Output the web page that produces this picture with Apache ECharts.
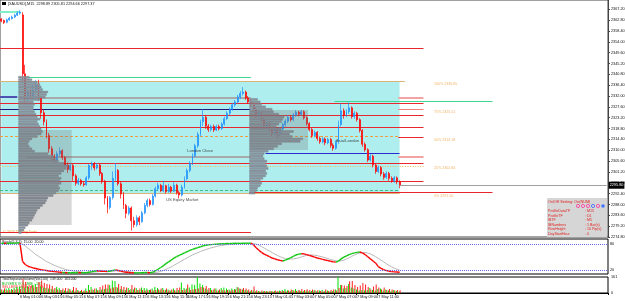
<!DOCTYPE html>
<html><head><meta charset="utf-8">
<script src="https://cdn.jsdelivr.net/npm/echarts@6.0.0/dist/echarts.min.js"></script>
<style>html,body{margin:0;padding:0;background:#fff}#c{width:625px;height:301px}</style>
</head><body><div id="c"></div>
<script>
// ---------- DATA ----------
const titleText = "[XAUUSD],M15  2298.89 2305.81 2294.66 2297.37";
// candles: [open, close, low, high]
const candles = [
[2363.2,2362.4,2361.9,2363.6],[2362.6,2361.8,2361.2,2363.0],[2361.9,2362.9,2361.5,2363.4],[2362.9,2363.6,2362.5,2364.1],
[2363.4,2364.0,2363.0,2364.6],[2364.0,2364.8,2363.6,2365.3],[2364.8,2365.6,2364.4,2366.4],[2365.6,2366.0,2365.0,2366.8],
[2364.9,2341.0,2338.0,2366.0],[2341.0,2331.0,2329.0,2344.6],[2331.0,2333.5,2329.5,2334.5],[2333.5,2331.8,2330.8,2335.0],
[2331.8,2334.6,2331.0,2336.5],[2334.6,2336.4,2333.6,2338.4],[2336.4,2331.0,2330.0,2338.6],[2331.0,2325.2,2322.8,2332.0],
[2325.2,2321.6,2320.0,2326.5],[2321.6,2316.0,2314.8,2322.5],[2316.0,2310.6,2309.0,2317.0],[2310.6,2307.4,2305.4,2311.7],
[2307.4,2305.8,2304.6,2308.4],[2305.8,2308.6,2305.0,2309.6],[2308.6,2309.8,2307.6,2311.2],[2309.8,2307.0,2306.0,2310.4],
[2307.0,2304.0,2303.0,2307.6],[2304.0,2302.2,2300.8,2305.0],[2302.2,2303.8,2301.6,2304.6],[2303.8,2299.6,2297.6,2304.4],
[2299.6,2296.6,2295.6,2300.4],[2296.6,2297.8,2295.8,2298.8],[2297.8,2296.4,2295.6,2298.4],[2296.4,2296.0,2295.2,2297.2],
[2296.0,2298.8,2295.6,2299.6],[2298.8,2303.8,2298.0,2304.4],[2303.8,2304.6,2302.0,2305.4],[2304.6,2302.8,2301.8,2305.2],
[2302.8,2304.0,2302.2,2304.8],[2304.0,2300.6,2299.6,2304.4],[2300.6,2297.4,2296.4,2301.2],[2297.4,2290.6,2288.0,2298.0],
[2290.6,2286.8,2284.4,2291.4],[2286.8,2290.8,2286.0,2291.4],[2290.8,2298.6,2290.0,2301.4],[2298.6,2301.8,2297.6,2304.8],
[2301.8,2296.4,2295.6,2302.4],[2296.4,2292.2,2290.4,2297.2],[2292.2,2287.6,2286.2,2293.0],[2287.6,2284.4,2282.4,2288.2],
[2284.4,2286.6,2283.6,2287.4],[2286.6,2281.4,2277.4,2287.2],[2281.4,2279.8,2278.6,2283.0],[2279.8,2282.6,2279.0,2283.6],
[2282.6,2281.0,2279.6,2283.4],[2281.0,2284.6,2280.6,2285.4],[2284.6,2287.6,2284.0,2288.6],[2287.6,2289.6,2286.8,2290.4],
[2289.6,2288.0,2287.2,2290.4],[2288.0,2291.4,2287.6,2292.2],[2291.4,2294.4,2290.8,2295.2],[2294.4,2295.8,2293.6,2296.8],
[2295.8,2293.6,2293.0,2296.4],[2293.6,2295.6,2293.0,2297.6],[2295.6,2293.2,2292.4,2296.0],[2293.2,2295.0,2292.8,2296.4],
[2295.0,2293.4,2292.6,2295.6],[2293.4,2295.8,2293.0,2297.0],[2295.8,2292.8,2292.0,2296.4],[2292.8,2291.8,2290.4,2293.6],
[2291.8,2295.0,2291.2,2296.0],[2295.0,2298.4,2294.4,2299.4],[2298.4,2301.8,2297.8,2302.6],[2301.8,2304.6,2301.0,2305.6],
[2304.6,2307.8,2304.0,2308.8],[2307.8,2311.8,2307.0,2312.6],[2311.8,2316.4,2311.0,2317.4],[2316.4,2321.6,2315.6,2322.4],
[2321.6,2323.4,2319.8,2326.6],[2323.4,2319.8,2318.6,2324.2],[2319.8,2318.4,2317.4,2320.6],[2318.4,2319.6,2317.6,2320.4],
[2319.6,2318.2,2317.4,2320.4],[2318.2,2319.6,2317.8,2320.4],[2319.6,2318.8,2318.0,2320.4],[2318.8,2320.6,2318.2,2321.4],
[2320.6,2322.8,2320.0,2323.6],[2322.8,2325.0,2322.2,2325.8],[2325.0,2326.6,2324.2,2327.4],[2326.6,2328.4,2326.0,2329.2],
[2328.4,2329.6,2327.6,2330.4],[2329.6,2331.6,2329.0,2332.4],[2331.6,2333.0,2330.8,2334.0],[2333.0,2333.6,2332.2,2335.6],
[2333.6,2331.2,2330.4,2334.2],[2331.2,2329.6,2328.8,2332.0],[2329.6,2328.4,2327.6,2330.4],[2328.4,2326.6,2325.8,2329.2],
[2326.6,2324.0,2323.2,2327.4],[2324.0,2325.2,2323.4,2326.0],[2325.2,2322.2,2321.4,2325.8],[2322.2,2320.0,2319.2,2323.0],
[2320.0,2321.0,2319.2,2321.8],[2321.0,2318.4,2317.6,2321.6],[2318.4,2316.8,2315.6,2319.2],[2316.8,2318.0,2316.0,2318.8],
[2318.0,2316.2,2314.8,2318.6],[2316.2,2318.6,2315.6,2319.4],[2318.6,2320.4,2318.0,2321.2],[2320.4,2321.8,2319.6,2322.6],
[2321.8,2323.4,2321.0,2324.2],[2323.4,2322.4,2321.6,2324.0],[2322.4,2324.2,2321.8,2325.0],[2324.2,2325.4,2323.6,2326.2],
[2325.4,2324.6,2323.8,2326.0],[2324.6,2325.6,2324.0,2326.4],[2325.6,2323.2,2322.4,2326.2],[2323.2,2320.8,2320.0,2323.8],
[2320.8,2318.4,2317.6,2321.4],[2318.4,2316.0,2315.0,2319.0],[2316.0,2317.2,2315.2,2318.0],[2317.2,2314.8,2313.8,2317.8],
[2314.8,2313.4,2312.6,2315.6],[2313.4,2314.6,2312.8,2315.4],[2314.6,2313.0,2312.0,2315.2],[2313.0,2314.4,2312.4,2315.0],
[2314.4,2312.0,2311.0,2315.0],[2312.0,2310.8,2309.8,2312.8],[2310.8,2313.2,2310.2,2314.0],[2313.2,2320.4,2312.6,2322.0],
[2320.4,2326.0,2319.6,2329.0],[2326.0,2324.2,2322.8,2327.0],[2324.2,2325.6,2323.4,2326.6],[2325.6,2327.2,2324.8,2329.4],
[2327.2,2323.6,2322.8,2327.8],[2323.6,2325.0,2322.8,2325.8],[2325.0,2322.4,2321.6,2325.6],[2322.4,2318.0,2317.2,2323.0],
[2318.0,2312.4,2311.4,2318.6],[2312.4,2310.2,2309.4,2313.2],[2310.2,2306.0,2305.2,2310.8],[2306.0,2307.6,2305.4,2308.4],
[2307.6,2304.0,2303.0,2308.2],[2304.0,2301.4,2300.4,2304.6],[2301.4,2303.0,2300.8,2303.8],[2303.0,2300.4,2299.4,2303.6],
[2300.4,2299.0,2298.0,2301.2],[2299.0,2300.6,2298.4,2301.4],[2300.6,2298.6,2297.6,2301.2],[2298.6,2297.6,2296.8,2299.4],
[2297.6,2298.8,2296.8,2299.6],[2298.8,2297.2,2296.2,2299.4],[2297.2,2295.8,2294.6,2297.8]
];
const stochMain = [
82,82,81.5,82,82.5,82.5,83,83,
40,33,29,27,25,23.8,22,21,20,19,17.8,17,16.5,16,
15,14.5,14.5,14,14,14,14,14.5,14,14,14,
15,16.5,17.5,18.5,18,17.5,17,16.5,18,19.5,20.5,19,17.5,16,15,14.5,14,13.5,13.5,13.5,14,14.5,14.5,14,
15,18,22,26,30,35,39,43,48,51,54,57,60,63,65.5,68,70,72,74,76,77.5,78.5,79,79.5,80,80.5,81,81,81.5,81.5,81.5,82,82,82,82,82.3,82.3,82.5,
78,72,66,61,57,54,51,48,46,44,42.5,41,
43,46,49,52,55,57,58,
57.5,56,54,52,50,48,46.5,45,43.5,42,40.5,39,38.5,
41,46,50,53,56,58,60,61,62,
60,56,51,46,41,36,28,24,21,19,17.5,16.5,16,15.5,15
];
const stochSignal = [
82,82,82,82,82,82,82.5,82.5,
80,76,71,66,61,56,52,48,44,40,37,34,31,28.5,26,24,22,20.5,19,18,17,16,15.5,15,14.8,
14.8,15,15.5,16,16.5,17,17.2,17.2,17,17.3,18,18.5,18.5,18,17.3,16.5,15.5,15,14.5,14,14,14,14,14,
14,14.5,15.5,17,19,21.5,24.5,27.5,31,34.5,38,41.5,45,48.5,52,55,58,60.5,63,65.5,67.5,69.5,71.5,73,74.5,76,77,78,79,79.5,80,80.5,81,81,81.5,81.5,81.5,82,
81.5,80,77.5,74.5,71,67.5,64,60.5,57,54,51,48.5,
46.5,45.5,45.5,46,47,48.5,50.5,
52.5,54,55,55,54.5,53.5,52,50.5,48.5,46.5,44.5,43,41.5,
41,41.5,43,45.5,48.5,52,55,57.5,59.5,
60.5,60.5,59.5,57.5,54.5,51,47,43,39,35,31,27.5,24.5,22,20
];
const buyVol = [
30,25,45,50,40,55,60,65,70,55, 70,50,80,90,60,65,55,50,45,40,
35,60,50,30,25,20,40,25,18,30, 20,18,45,80,60,30,45,30,35,40,
45,80,125,120,55,40,35,30,50,40, 35,50,30,55,50,45,30,45,60,50,
30,50,30,35,25,45,25,30,105,50, 45,55,85,80,160,95,80,45,35,50,
30,45,25,50,55,45,35,45,40,60, 45,35,30,25,18,25,18,20,15,18,
20,15,18,20,15,25,30,40,28,20, 30,40,25,20,18,25,18,20,30,18,
25,30,18,25,18,20,35,160,80,45, 50,90,55,45,35,25,30,25,30,50,
30,25,40,45,25,35,25,18,30,20,15
];
const sellVol = [
35,45,28,30,32,35,45,40,140,110, 60,70,55,60,110,125,100,90,85,70,
50,35,30,45,50,45,25,60,50,20, 30,25,20,30,35,45,28,60,75,85,
85,45,55,60,90,70,60,55,30,80, 55,30,45,30,25,30,35,25,30,35,
45,30,45,25,35,28,50,55,30,35, 85,30,35,40,45,60,55,70,50,30,
45,25,35,30,25,30,25,30,35,55, 40,50,45,35,30,65,28,15,25,20,
15,22,15,25,20,18,20,18,25,35, 25,20,30,40,30,38,30,35,25,28,
20,18,35,20,30,35,25,50,80,75, 70,117,120,80,60,75,100,85,60,35,
65,85,55,35,55,30,40,35,25,30,28
];
const timeLabels = ["3 May 2024","6 May 01:00","6 May 03:15","6 May 05:15","6 May 07:15","6 May 09:15","6 May 11:15",
"6 May 13:15","6 May 15:15","6 May 17:15","6 May 19:15","6 May 21:15","6 May 23:15","7 May 01:45","7 May 03:00",
"7 May 05:00","7 May 07:00","7 May 09:00","7 May 11:00","7 May 13:00"];
const labelIdx = [0,7,15,23,31,39,47,55,63,70,78,86,94,102,110,118,126,134,142,149];
// volume profile rows: [price, width in bars]
const profile1 = [
[2276.5,1],[2277.5,2],[2278.5,2.5],[2279.5,3.5],[2280.5,4],[2281.5,5],[2282.5,5.5],[2283.5,6],[2284.5,6.5],[2285.5,7],
[2286.5,8],[2287.5,9],[2288.5,10],[2289.5,10.5],[2290.5,11],[2291.5,13],[2292.5,14],[2293.5,15],[2294.5,15.5],[2295.5,15],
[2296.5,16],[2297.5,15.5],[2298.5,16],[2299.5,15],[2300.5,16],[2301.5,17],[2302.5,18],[2303.5,18.5],[2304.5,17],[2305.5,15],
[2306.5,14],[2307.5,13],[2308.5,11],[2309.5,6],[2310.5,5],[2311.5,4],[2312.5,3.5],[2313.5,4],[2314.5,5],[2315.5,7],
[2316.5,8.5],[2317.5,9],[2318.5,8.5],[2319.5,8],[2320.5,7.5],[2321.5,7],[2322.5,8],[2323.5,7],[2324.5,6.5],[2325.5,6],
[2326.5,5.5],[2327.5,5.5],[2328.5,6],[2329.5,5.5],[2330.5,8],[2331.5,10],[2332.5,10.5],[2333.5,11],[2334.5,9],[2335.5,8.5],
[2336.5,8],[2337.5,7],[2338.5,5],[2339.5,4]
];
const profile2 = [
[2292.5,2],[2293.5,2.5],[2294.5,3],[2295.5,4],[2296.5,4.5],[2297.5,4],[2298.5,5],[2299.5,6],[2300.5,6.5],[2301.5,6],
[2302.5,7],[2303.5,6.5],[2304.5,6],[2305.5,6.5],[2306.5,5.5],[2307.5,5],[2308.5,5.5],[2309.5,7],[2310.5,9],[2311.5,10.5],
[2312.5,12],[2313.5,19],[2314.5,20],[2315.5,16],[2316.5,15],[2317.5,16.5],[2318.5,12],[2319.5,10],[2320.5,11],[2321.5,12],
[2322.5,12.5],[2323.5,13],[2324.5,11],[2325.5,9],[2326.5,8.5],[2327.5,6],[2328.5,4.5],[2329.5,4],[2330.5,3]
];
// value-area boxes: [fromBar, toBar, highPrice, lowPrice]
const valueAreas = [[7,26,2318.2,2279.7],[94,115,2326.3,2310.1]];
const rangeHigh = 2337.7, rangeLow = 2292.6;
// horizontal levels (prices)
const redLevels = [2351.1,2328.8,2323.9,2319.4,2304.8,2297.5];
const grayLevels = [2331.0,2307.1];
const navyLevel = 2326.7;
const orangeLevel = 2315.4;
const yellowLevel = 2303.6;
const greenDashLevel = 2293.7;
const greenLevels = [2339.7,2329.8];
const blueLevel = 2308.5;
const redLowLevel = 2276.8, redRangeLevel = 2292.8;
const mintLevel = 2366.1, purpleLevel = 2331.4;
const fibLabels = [["100% 2336.85",2336.9],["75% 2325.51",2325.5],["50% 2314.18",2314.2],["25% 2302.84",2302.9],["0% 2291.50",2291.6]];
const notes = [["London Close",70,2309.6],["US Equity Market",62,2290.0],["Asia/London",126,2313.9]];

// ---------- BUILD ----------
const NCAT = 229;
const cats = Array.from({length:NCAT},(_,i)=>{const k=labelIdx.indexOf(i);return k>=0?timeLabels[k]:'s'+i;});
const FONT = 'Liberation Sans';
const last = candles[candles.length-1][1];

// line styles (not data)
const ST = {
  red:{stroke:'#e8262b',lineWidth:1},
  gray:{stroke:'#a9a9a9',lineWidth:2},
  pink:{stroke:'#f4a3a3',lineWidth:2},
  pinkThin:{stroke:'#f08080',lineWidth:1},
  navy:{stroke:'#1a1a80',lineWidth:1},
  orangeDash:{stroke:'#f0a040',lineWidth:1,lineDash:[3,2]},
  yellowDot:{stroke:'#f0c060',lineWidth:1,lineDash:[1,1.5]},
  greenDash:{stroke:'#40c080',lineWidth:1,lineDash:[3,2]},
  green:{stroke:'#40d890',lineWidth:1},
  blue:{stroke:'#2a2ad0',lineWidth:1},
  mint:{stroke:'#80f0c8',lineWidth:2},
  purple:{stroke:'#5050b0',lineWidth:2},
  tan:{stroke:'#d9b47a',lineWidth:1}
};
const segs = [];
function seg(p,a,b,k){segs.push([a,b,p,k]);}
redLevels.forEach(p=>seg(p,0,159,'red'));
seg(grayLevels[0],7,94,'gray'); seg(grayLevels[1],10,94,'gray');
grayLevels.forEach(p=>seg(p,150,159,'pink'));
seg(navyLevel,0,94,'navy'); seg(navyLevel,150,159,'pinkThin');
seg(orangeLevel,0,150,'orangeDash'); seg(orangeLevel-0.4,150,159,'red');
seg(yellowLevel,0,159,'yellowDot');
seg(greenDashLevel,0,150,'greenDash');
seg(greenLevels[0],7,94,'green'); seg(greenLevels[1],126,185,'green');
seg(blueLevel,100,150,'blue');
seg(redLowLevel,0,94,'red'); seg(redRangeLevel,94,185,'red');
seg(mintLevel,0,7,'mint'); seg(purpleLevel,0,6,'purple');
seg(rangeHigh,0,152,'tan'); seg(rangeLow,0,150,'tan');

function profileSeries(rows,start){
  return {type:'custom',xAxisIndex:0,yAxisIndex:0,z:4,silent:true,
    data:rows.map(r=>[start,r[0],r[1]]),
    renderItem:function(params,api){
      const bw=api.size([1,0])[0];
      const top=api.coord([api.value(0),api.value(1)+0.5]);
      const bot=api.coord([api.value(0),api.value(1)-0.5]);
      const x=top[0]-bw/2;
      return {type:'rect',shape:{x:x,y:top[1],width:api.value(2)*bw,height:Math.max(0.5,bot[1]-top[1]-0.5)},
        style:{fill:'#8c96a1',stroke:'#68717c',lineWidth:0.3}};
    }};
}
const stochSegs = stochMain.map((v,i)=>[i,i>0?stochMain[i-1]:v,v]);

const option = {
  animation:false,
  backgroundColor:'#ffffff',
  textStyle:{fontFamily:FONT},
  grid:[
    {left:0,right:17,top:0,height:237,show:true,borderColor:'#444',borderWidth:1,backgroundColor:'#fff',outerBoundsMode:'none'},
    {left:0,right:17,top:239,height:35,show:true,borderColor:'#000',borderWidth:1,outerBoundsMode:'none'},
    {left:0,right:17,top:277,height:16,show:true,borderColor:'#000',borderWidth:1,outerBoundsMode:'none'}
  ],
  xAxis:[0,1,2].map(g=>({type:'category',gridIndex:g,data:cats,boundaryGap:true,
    axisLine:{show:g===2,lineStyle:{color:'#000'}},
    axisTick:{show:g===2,length:2,interval:function(i){return labelIdx.indexOf(i)>=0;},lineStyle:{color:'#000'}},
    axisLabel:{show:g===2,interval:function(i){return labelIdx.indexOf(i)>=0;},align:'left',margin:2,fontSize:3.8,color:'#111',fontFamily:FONT},
    splitLine:{show:false}})),
  yAxis:[
    {type:'value',gridIndex:0,position:'right',min:2274.8,max:2370.94,interval:4.4,scale:true,
     axisLine:{show:true,lineStyle:{color:'#444'}},axisTick:{show:true,length:2,lineStyle:{color:'#444'}},
     axisLabel:{fontSize:3.8,color:'#111',margin:3,showMaxLabel:false,fontFamily:FONT,formatter:v=>v.toFixed(2)},splitLine:{show:false}},
    {type:'value',gridIndex:1,position:'right',min:11,max:92,axisLine:{show:false},axisTick:{show:false},axisLabel:{show:false},splitLine:{show:false}},
    {type:'value',gridIndex:2,position:'right',min:0,max:161,interval:161,axisLine:{show:false},axisTick:{show:false},
     axisLabel:{fontSize:3.8,color:'#111',margin:3,fontFamily:FONT},splitLine:{show:false}}
  ],
  series:[
    {type:'line',xAxisIndex:0,yAxisIndex:0,data:[],z:1,silent:true,
     markArea:{silent:true,z:1,itemStyle:{color:'#afeeee'},data:[[{coord:[0,rangeHigh]},{coord:[150,rangeLow]}]]}
    },
    {type:'custom',xAxisIndex:0,yAxisIndex:0,z:2,silent:true,data:segs.map(s=>[s[0],s[1],s[2]]),
     renderItem:function(params,api){
       const bw=api.size([1,0])[0];
       const a=api.coord([api.value(0),api.value(2)]);
       const b=api.coord([api.value(1),api.value(2)]);
       const st=ST[segs[params.dataIndex][3]];
       const y=st.lineWidth%2===1?Math.round(a[1]-0.5)+0.5:Math.round(a[1]);
       return {type:'line',shape:{x1:a[0]-bw/2,y1:y,x2:b[0],y2:y},style:Object.assign({fill:null},st)};
     }},
    {type:'candlestick',xAxisIndex:0,yAxisIndex:0,z:3,barWidth:1.4,data:candles,
     itemStyle:{color:'#1e90ff',color0:'#ff0000',borderColor:'#1e90ff',borderColor0:'#ff0000',borderWidth:0.7},
     markLine:{silent:true,symbol:['none','none'],z:6,data:[[{coord:[150,last],lineStyle:{color:'#a0a0a0',width:1,type:'solid'},
       label:{show:true,position:'end',distance:2,formatter:last.toFixed(2),backgroundColor:'#000',color:'#fff',fontSize:3.8,padding:[1.5,1],fontFamily:FONT}},
       {coord:[228,last]}]]}
    },
    {type:'custom',xAxisIndex:0,yAxisIndex:0,z:5,silent:true,data:valueAreas,
     renderItem:function(params,api){
       const bw=api.size([1,0])[0];
       const a=api.coord([api.value(0),api.value(2)]);
       const b=api.coord([api.value(1),api.value(3)]);
       return {type:'rect',shape:{x:a[0]-bw/2,y:a[1],width:b[0]-a[0]+bw,height:b[1]-a[1]},style:{fill:'rgba(110,110,110,0.28)'}};
     }},
    profileSeries(profile1,7),
    profileSeries(profile2,94),
    {type:'scatter',xAxisIndex:0,yAxisIndex:0,z:7,silent:true,symbolSize:0,
     data:notes.map(n=>[n[1],n[2],n[0]]),
     label:{show:true,position:'right',distance:0,formatter:p=>p.data[2],fontSize:4.2,color:'#222',fontFamily:FONT}},
    {type:'scatter',xAxisIndex:0,yAxisIndex:0,z:7,silent:true,symbolSize:0,
     data:fibLabels.map(f=>[163,f[1],f[0]]),
     label:{show:true,position:'right',distance:0,formatter:p=>p.data[2],fontSize:3.6,color:'#f0a040',fontFamily:FONT}},
    {type:'line',xAxisIndex:1,yAxisIndex:1,data:stochSignal,symbol:'none',lineStyle:{color:'#b8b8b8',width:1},z:2,
     markLine:{silent:true,symbol:['none','none'],lineStyle:{color:'#6666ee',type:'dotted',width:1},
       label:{show:true,position:'end',distance:2,fontSize:3.8,color:'#111',fontFamily:FONT},
       data:[{yAxis:80},{yAxis:20}]}},
    {type:'custom',xAxisIndex:1,yAxisIndex:1,z:3,silent:true,data:stochSegs,
     renderItem:function(params,api){
       const i=api.value(0);
       const a=api.coord([Math.max(0,i-1),api.value(1)]);
       const b=api.coord([i,api.value(2)]);
       const up=api.value(2)>=api.value(1);
       return {type:'line',shape:{x1:a[0],y1:a[1],x2:b[0],y2:b[1]},style:{stroke:up?'#10c810':'#ff0000',lineWidth:1.4}};
     }},
    {type:'bar',xAxisIndex:2,yAxisIndex:2,data:buyVol,barWidth:1,barGap:'0%',itemStyle:{color:'#00e000'}},
    {type:'bar',xAxisIndex:2,yAxisIndex:2,data:sellVol,barWidth:1,barGap:'0%',itemStyle:{color:'#ff2020'}}
  ],
  graphic:[
    {type:'rect',left:2,top:2,shape:{width:4,height:3},style:{fill:'#000'}},
    {type:'text',left:8,top:1.5,style:{text:titleText,fontSize:3.8,fill:'#111',fontFamily:FONT}},
    {type:'text',left:3,top:229.5,style:{text:'© 2024 Trading Tools',fontSize:3.6,fill:'#e0a020',fontFamily:FONT}},
    {type:'text',left:2,top:240,style:{text:'Stoch(5,3,3)  15.00  20.00',fontSize:3.6,fill:'#111',fontFamily:FONT}},
    {type:'text',left:2,top:278,style:{text:'TotalSeparateVolume(Ver2.00)  139.000  163.000',fontSize:3.4,fill:'#111',fontFamily:FONT}},
    {type:'text',left:2,top:281.5,style:{text:'BUYERS VOLUME : 163',fontSize:3.6,fill:'#00b000',fontFamily:FONT}},
    {type:'text',left:2,top:285,style:{text:'SELLERS VOLUME : 139',fontSize:3.6,fill:'#ff2020',fontFamily:FONT}},
    {type:'group',left:547,top:198,children:[
      {type:'rect',shape:{x:0,y:0,width:60,height:39},style:{fill:'#d6d6d6'}},
      {type:'text',style:{x:1,y:1.5,text:'On/Off Setting: On(NUM)',fontSize:3.8,fill:'#e02020',fontFamily:FONT}},
      {type:'circle',shape:{cx:31,cy:8,r:1.6},style:{fill:'none',stroke:'#ff3399',lineWidth:0.8}},
      {type:'circle',shape:{cx:36,cy:8,r:1.6},style:{fill:'none',stroke:'#ff3399',lineWidth:0.8}},
      {type:'circle',shape:{cx:41,cy:8,r:1.6},style:{fill:'none',stroke:'#ff3399',lineWidth:0.8}},
      {type:'circle',shape:{cx:46,cy:8,r:1.6},style:{fill:'none',stroke:'#3366ff',lineWidth:0.8}},
      {type:'circle',shape:{cx:51,cy:8,r:1.6},style:{fill:'none',stroke:'#ff3399',lineWidth:0.8}},
      {type:'circle',shape:{cx:56,cy:8,r:1.8},style:{fill:'#4477ff'}},
      {type:'text',style:{x:1,y:11,text:'ProfileDataTF',fontSize:3.6,fill:'#e02020',fontFamily:FONT}},
      {type:'text',style:{x:38,y:11,text:': M15',fontSize:3.6,fill:'#e02020',fontFamily:FONT}},
      {type:'text',style:{x:1,y:15.5,text:'ProfileTF',fontSize:3.6,fill:'#e02020',fontFamily:FONT}},
      {type:'text',style:{x:38,y:15.5,text:': D1',fontSize:3.6,fill:'#e02020',fontFamily:FONT}},
      {type:'text',style:{x:1,y:20,text:'IBTF',fontSize:3.6,fill:'#e02020',fontFamily:FONT}},
      {type:'text',style:{x:38,y:20,text:': M5',fontSize:3.6,fill:'#e02020',fontFamily:FONT}},
      {type:'text',style:{x:1,y:24.5,text:'IBNumbers',fontSize:3.6,fill:'#e02020',fontFamily:FONT}},
      {type:'text',style:{x:38,y:24.5,text:': 1 Bar(s)',fontSize:3.6,fill:'#e02020',fontFamily:FONT}},
      {type:'text',style:{x:1,y:29,text:'RowHeight',fontSize:3.6,fill:'#e02020',fontFamily:FONT}},
      {type:'text',style:{x:38,y:29,text:': 10 Pip(s)',fontSize:3.6,fill:'#e02020',fontFamily:FONT}},
      {type:'text',style:{x:1,y:33.5,text:'DayStartHour',fontSize:3.6,fill:'#e02020',fontFamily:FONT}},
      {type:'text',style:{x:38,y:33.5,text:': 0',fontSize:3.6,fill:'#e02020',fontFamily:FONT}}
    ]}
  ]
};
const chart = echarts.init(document.getElementById('c'),null,{renderer:'canvas'});
chart.setOption(option);
</script></body></html>
